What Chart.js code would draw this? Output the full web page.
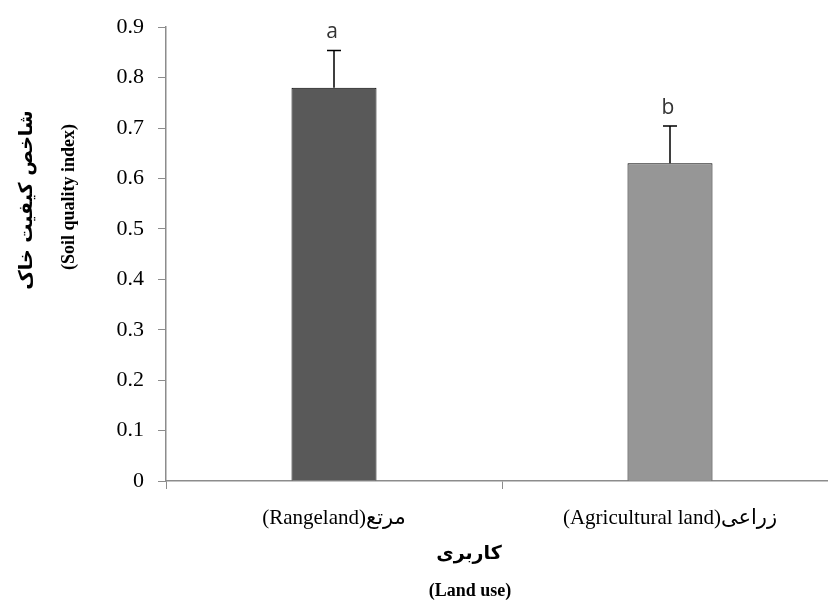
<!DOCTYPE html>
<html>
<head>
<meta charset="utf-8">
<script src="https://cdn.jsdelivr.net/npm/chart.js@4.4.1/dist/chart.umd.min.js"></script>
<style>
  html, body { margin: 0; padding: 0; background: #fff; overflow: hidden; }
  #wrap { width: 860px; height: 605px; }
</style>
</head>
<body>
<div id="wrap"><canvas id="chart" width="860" height="605"></canvas></div>
<script>
// ── DATA ──────────────────────────────────────────────
const categories = ["(Rangeland)مرتع", "(Agricultural land)زراعی"];
const values     = [0.78, 0.63];
const errors     = [0.074, 0.074];
const letters    = ["a", "b"];
const barColors  = ["#595959", "#969696"];
const yTicks     = ["0", "0.1", "0.2", "0.3", "0.4", "0.5", "0.6", "0.7", "0.8", "0.9"];

const SERIF = "'Liberation Serif', 'DejaVu Sans', serif";

// error bars + letters over the bars
const errorBars = {
  id: "errorBars",
  afterDatasetsDraw(chart) {
    const ctx = chart.ctx;
    const y = chart.scales.y;
    const meta = chart.getDatasetMeta(0);
    meta.data.forEach((bar, i) => {
      const top = y.getPixelForValue(values[i] + errors[i]);
      ctx.save();
      ctx.strokeStyle = "#000";
      ctx.lineWidth = 1.5;
      ctx.beginPath();
      ctx.moveTo(bar.x, bar.y);
      ctx.lineTo(bar.x, top);
      ctx.moveTo(bar.x - 7, top);
      ctx.lineTo(bar.x + 7, top);
      ctx.stroke();
      ctx.fillStyle = "#333";
      ctx.font = "21px 'Open Sans', sans-serif";
      ctx.textAlign = "center";
      ctx.textBaseline = "alphabetic";
      ctx.fillText(letters[i], bar.x - 2, top - 12);
      ctx.restore();
    });
  }
};

// axis titles (persian + english lines)
const axisTitles = {
  id: "axisTitles",
  afterDraw(chart) {
    const ctx = chart.ctx;
    ctx.save();
    ctx.fillStyle = "#000";
    ctx.textAlign = "center";
    ctx.textBaseline = "middle";
    // y title
    ctx.save();
    ctx.translate(27, 200);
    ctx.rotate(-Math.PI / 2);
    ctx.font = "bold 19px 'DejaVu Sans', serif";
    ctx.fillText("شاخص کیفیت خاک", 0, 0);
    ctx.restore();
    ctx.save();
    ctx.translate(69, 197);
    ctx.rotate(-Math.PI / 2);
    ctx.font = "bold 18px " + SERIF;
    ctx.fillText("(Soil quality index)", 0, 0);
    ctx.restore();
    // x title
    ctx.font = "bold 19px 'DejaVu Sans', serif";
    ctx.fillText("کاربری", 469, 554);
    ctx.font = "bold 18px " + SERIF;
    ctx.fillText("(Land use)", 470, 591);
    ctx.restore();
  }
};

new Chart(document.getElementById("chart").getContext("2d"), {
  type: "bar",
  data: {
    labels: categories,
    datasets: [{
      data: values,
      backgroundColor: barColors,
      borderColor: "#000",
      borderWidth: 1,
      barPercentage: 0.253,
      categoryPercentage: 1,
    }],
  },
  options: {
    responsive: false,
    animation: false,
    layout: { padding: { top: 26, right: 22, left: 0, bottom: 0 } },
    plugins: { legend: { display: false }, tooltip: { enabled: false } },
    scales: {
      x: {
        offset: true,
        grid: { display: true, drawOnChartArea: false, drawTicks: true, tickLength: 8, color: "#8c8c8c", offset: true },
        border: { color: "#8c8c8c", width: 1.5 },
        ticks: { color: "#000", font: { family: SERIF, size: 21 }, padding: 17, maxRotation: 0 },
        afterFit: (s) => { s.height = 605 - 481; },
      },
      y: {
        min: 0,
        max: 0.9,
        grid: { display: true, drawOnChartArea: false, drawTicks: true, tickLength: 8, color: "#8c8c8c" },
        border: { color: "#8c8c8c", width: 1.5 },
        ticks: {
          stepSize: 0.1,
          color: "#000",
          font: { family: SERIF, size: 22 },
          padding: 14,
          callback: (v, i) => yTicks[i],
        },
        afterFit: (s) => { s.width = 166; },
      },
    },
  },
  plugins: [errorBars, axisTitles],
});
</script>
</body>
</html>
